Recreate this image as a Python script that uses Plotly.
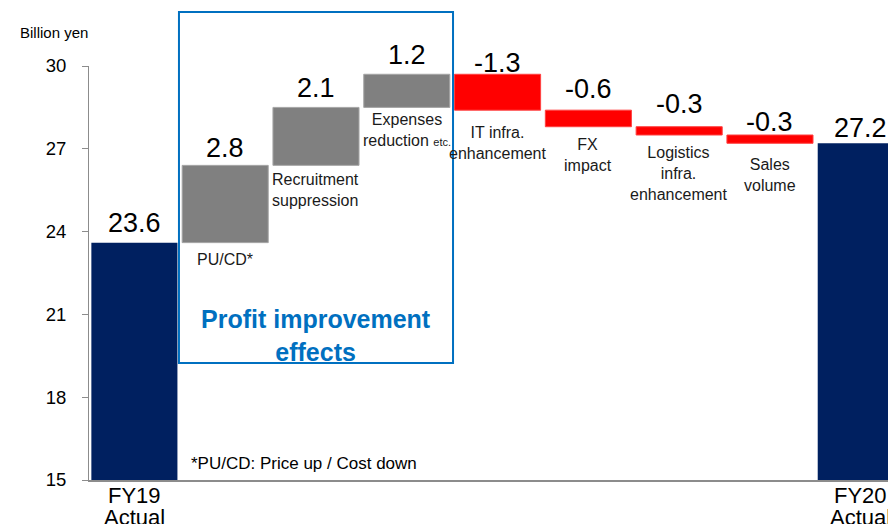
import plotly.graph_objects as go

# ---------------- data ----------------
categories = ["FY19 Actual", "PU/CD*", "Recruitment suppression", "Expenses reduction etc.",
              "IT infra. enhancement", "FX impact", "Logistics infra. enhancement",
              "Sales volume", "FY20 Actual"]
values = [23.6, 2.8, 2.1, 1.2, -1.3, -0.6, -0.3, -0.3, 27.2]
measures = ["absolute", "relative", "relative", "relative", "relative",
            "relative", "relative", "relative", "total"]
value_labels = ["23.6", "2.8", "2.1", "1.2", "-1.3", "-0.6", "-0.3", "-0.3", "27.2"]
bar_captions = ["", "PU/CD*", "Recruitment<br>suppression",
                "Expenses<br>reduction <span style='font-size:11px'>etc.</span>",
                "IT infra.<br>enhancement", "FX<br>impact",
                "Logistics<br>infra.<br>enhancement", "Sales<br>volume", ""]
axis_label_lines = {"FY19 Actual": ["FY19", "Actual"], "FY20 Actual": ["FY20", "Actual"]}
y_ticks = [15, 18, 21, 24, 27, 30]
unit_label = "Billion yen"
footnote = "*PU/CD: Price up / Cost down"
group_label = "Profit improvement<br>effects"

# ---------------- styles ----------------
FONT = "Liberation Sans, Arial, sans-serif"
NAVY = "#002060"
GRAY = "#808080"
RED = "#FF0000"
BLUE = "#0070C0"
AXIS = "#8C8C8C"
value_shift = [2.5, 0, 2.5, 2, -5.5, 4.5, 5.5, -3.5, -1.5]
caption_shift = [0, -6, -4, -2, -12, -7, -7, -11, 0]
axis_line_shift = [-1, -23]

# bar extents computed from the data (running level)
tops, bottoms = [], []
level = 0.0
for v, m in zip(values, measures):
    if m == "absolute":
        level = v
        lo, hi = 0.0, v
    elif m == "total":
        lo, hi = 0.0, level
    else:
        lo, hi = sorted([level, level + v])
        level += v
    tops.append(hi)
    bottoms.append(lo)

fig = go.Figure()
fig.add_trace(go.Waterfall(
    x=categories, y=values, measure=measures,
    increasing=dict(marker=dict(color=GRAY, line=dict(color="#A6A6A6", width=1))),
    decreasing=dict(marker=dict(color=RED, line=dict(color="#FF4040", width=1))),
    totals=dict(marker=dict(color=NAVY)),
    connector=dict(visible=False),
    textposition="none",
    hoverinfo="skip",
    showlegend=False,
))

annotations = []
for i, cat in enumerate(categories):
    annotations.append(dict(
        x=cat, y=tops[i], xref="x", yref="y", text=value_labels[i],
        showarrow=False, xanchor="center", yanchor="bottom", yshift=value_shift[i],
        font=dict(family=FONT, size=27, color="black")))
    if bar_captions[i]:
        annotations.append(dict(
            x=cat, y=bottoms[i], xref="x", yref="y", text=bar_captions[i],
            showarrow=False, xanchor="center", yanchor="top", yshift=caption_shift[i],
            font=dict(family=FONT, size=16, color="#1a1a1a")))
    if cat in axis_label_lines:
        for j, line in enumerate(axis_label_lines[cat]):
            annotations.append(dict(
                x=cat, y=0, xref="x", yref="paper", text=line,
                showarrow=False, xanchor="center", yanchor="top", yshift=axis_line_shift[j],
                font=dict(family=FONT, size=22, color="black")))

annotations.append(dict(
    x=-0.0889, y=1.081, xref="paper", yref="paper", text=unit_label, showarrow=False,
    xanchor="left", yanchor="middle", font=dict(family=FONT, size=15, color="black")))
annotations.append(dict(
    x=0.1248, y=0.041, xref="paper", yref="paper", text=footnote, showarrow=False,
    xanchor="left", yanchor="middle", font=dict(family=FONT, size=17, color="black")))
annotations.append(dict(
    x=0.2835, y=0.349, xref="paper", yref="paper", text="<b>" + group_label + "</b>",
    showarrow=False, xanchor="center", yanchor="middle",
    font=dict(family=FONT, size=25, color=BLUE)))

fig.update_layout(
    width=888, height=524,
    margin=dict(l=89, r=0, t=66, b=44),
    paper_bgcolor="white", plot_bgcolor="white",
    waterfallgap=0.052,
    font=dict(family=FONT, color="black"),
    annotations=annotations,
    shapes=[dict(type="rect", xref="paper", yref="paper",
                 x0=0.1126, x1=0.4556, y0=0.2826, y1=1.1304,
                 line=dict(color=BLUE, width=2), fillcolor="rgba(0,0,0,0)", layer="above")],
    xaxis=dict(range=[-0.5, 8.3], showticklabels=False, ticks="", showgrid=False,
               zeroline=False, showline=True, linecolor=AXIS, linewidth=2,
               fixedrange=True),
    yaxis=dict(range=[15, 30], tickvals=y_ticks, ticks="outside", ticklen=6,
               tickcolor=AXIS, tickwidth=1, showline=True, linecolor=AXIS, linewidth=1,
               showgrid=False, zeroline=False, ticklabelstandoff=12,
               tickfont=dict(family=FONT, size=18.5, color="black"), fixedrange=True),
)

fig.write_html("out.html", config={"displayModeBar": False},
               post_script="document.body.style.margin='0';document.body.style.overflow='hidden';")
